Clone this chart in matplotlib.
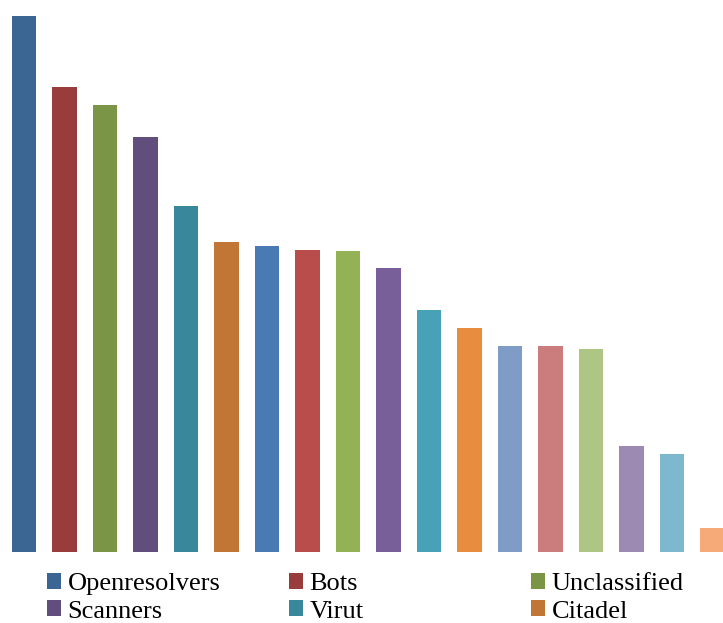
import matplotlib
matplotlib.use("Agg")
import matplotlib.pyplot as plt
from matplotlib.patches import Patch

# bar heights (relative units)
values = [536, 465, 447, 415, 346, 310, 306, 302, 301, 284,
          242, 224, 206, 206, 203, 106, 98, 24]

# excel-like palette: dark, medium and light shades of six hues
colors = ["#3B6694", "#983C3C", "#7B9546", "#624E7C", "#38879A", "#C27636",
          "#4A7AB4", "#B94D4B", "#93B155", "#795F99", "#47A2B8", "#E88C40",
          "#7F9CC7", "#CA7D7C", "#AEC684", "#9D8AB3", "#7EB8CE", "#F5AA78"]

legend_labels = ["Openresolvers", "Bots", "Unclassified",
                 "Scanners", "Virut", "Citadel"]

plt.rcParams["font.family"] = ["Liberation Serif", "DejaVu Serif"]

fig = plt.figure(figsize=(7.23, 6.23), dpi=100)
ax = fig.add_axes([0, 71 / 623, 1, 536 / 623])

x = list(range(len(values)))
ax.bar(x, values, width=0.593, color=colors)
ax.set_xlim(-24 / 40.5, (723 - 24) / 40.5)
ax.set_ylim(0, max(values))
ax.axis("off")

# legend: three columns, two rows each (row-major order)
col_x = [47 / 723, 289 / 723, 531 / 723]
for c in range(3):
    idx = [c, c + 3]
    handles = [Patch(facecolor=colors[i], edgecolor="none") for i in idx]
    fig.legend(handles, [legend_labels[i] for i in idx],
               loc="lower left", bbox_to_anchor=(col_x[c], 0.5 / 623),
               frameon=False, fontsize=19, handlelength=0.53,
               handleheight=0.53, handletextpad=0.25, labelspacing=0.2,
               borderpad=0, borderaxespad=0)

fig.savefig("out.png", dpi=100)
